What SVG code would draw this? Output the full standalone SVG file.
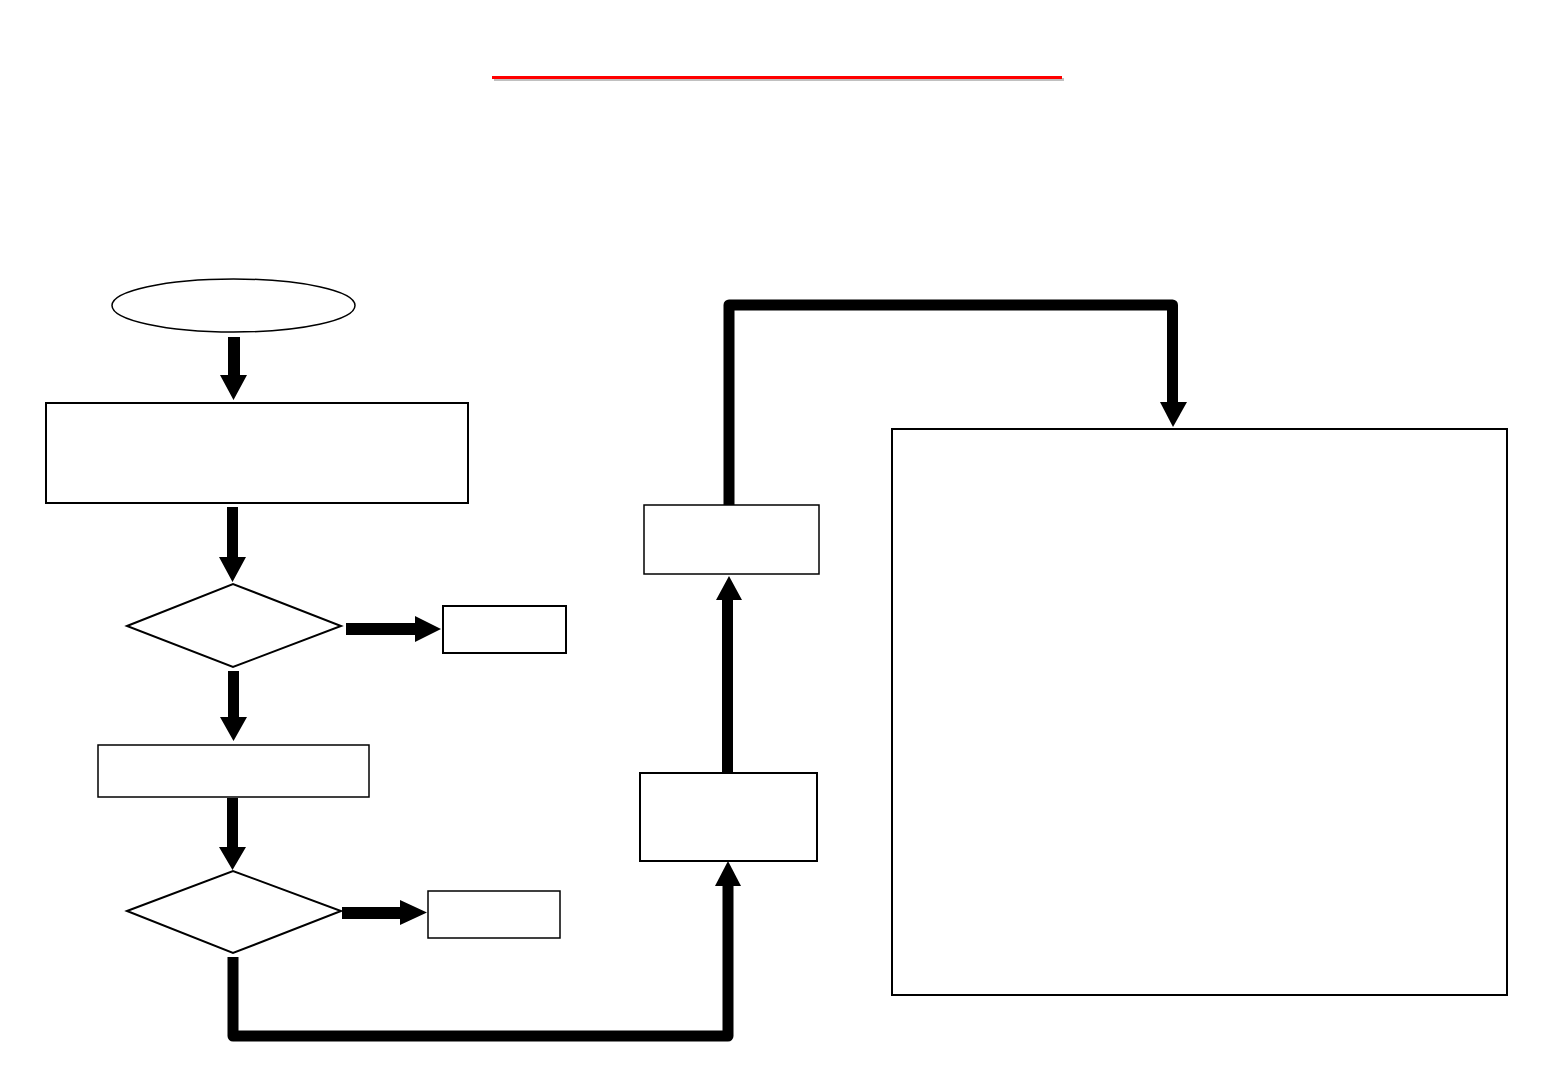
<svg xmlns="http://www.w3.org/2000/svg" width="1560" height="1080" viewBox="0 0 1560 1080">
<style>
.box{fill:#fff;stroke:#000;stroke-width:2}
.thin{fill:#fff;stroke:#000;stroke-width:1.5}
.ar{fill:#000;stroke:none}
.wire{fill:none;stroke:#000;stroke-width:11;stroke-linejoin:round;stroke-linecap:butt}
</style>
<rect width="1560" height="1080" fill="#fff"/>
<g id="title-rule">
<rect x="494" y="78" width="570" height="3" fill="#c0c0c0"/>
<rect x="492" y="76" width="570" height="3" fill="#ff0000"/>
</g>
<g id="start"><ellipse cx="233.5" cy="305.5" rx="121.5" ry="26.5" class="thin"/></g>
<g id="box1"><rect x="46" y="403" width="422" height="100" class="box"/></g>
<g id="decision1"><polygon points="127,626 233,584 341,626 233,667" class="box"/></g>
<g id="side1"><rect x="443" y="606" width="123" height="47" class="box"/></g>
<g id="box2"><rect x="98" y="745" width="271" height="52" class="thin"/></g>
<g id="decision2"><polygon points="127,911 233,871 341,911 233,953" class="box"/></g>
<g id="side2"><rect x="428" y="891" width="132" height="47" class="thin"/></g>
<g id="box3"><rect x="640" y="773" width="177" height="88" class="box"/></g>
<g id="box4"><rect x="644" y="505" width="175" height="69" class="thin"/></g>
<g id="bigbox"><rect x="892" y="429" width="615" height="566" class="box"/></g>
<g id="connectors">
<polygon class="ar" points="228,337 240,337 240,375 247,375 233.5,400 220,375 228,375"/>
<polygon class="ar" points="227,507 238,507 238,557 246,557 232.5,582 219,557 227,557"/>
<polygon class="ar" points="346,623 415,623 415,616 441,629 415,642 415,635 346,635"/>
<polygon class="ar" points="228,671 239,671 239,717 247,717 233.5,741 220,717 228,717"/>
<polygon class="ar" points="227,798 238,798 238,847 246,847 232.5,870 219,847 227,847"/>
<polygon class="ar" points="342,907 400,907 400,900 427,912.5 400,925 400,919 342,919"/>
<path class="wire" d="M233,957 V1036 H728 V884"/>
<polygon class="ar" points="715,886 741,886 728,861"/>
<polygon class="ar" points="722,772 733,772 733,600 742,600 729,576 716,600 722,600"/>
<path class="wire" d="M729,505 V305 H1172.5 V404"/>
<polygon class="ar" points="1160,402 1187,402 1173,427"/>
</g>
</svg>
